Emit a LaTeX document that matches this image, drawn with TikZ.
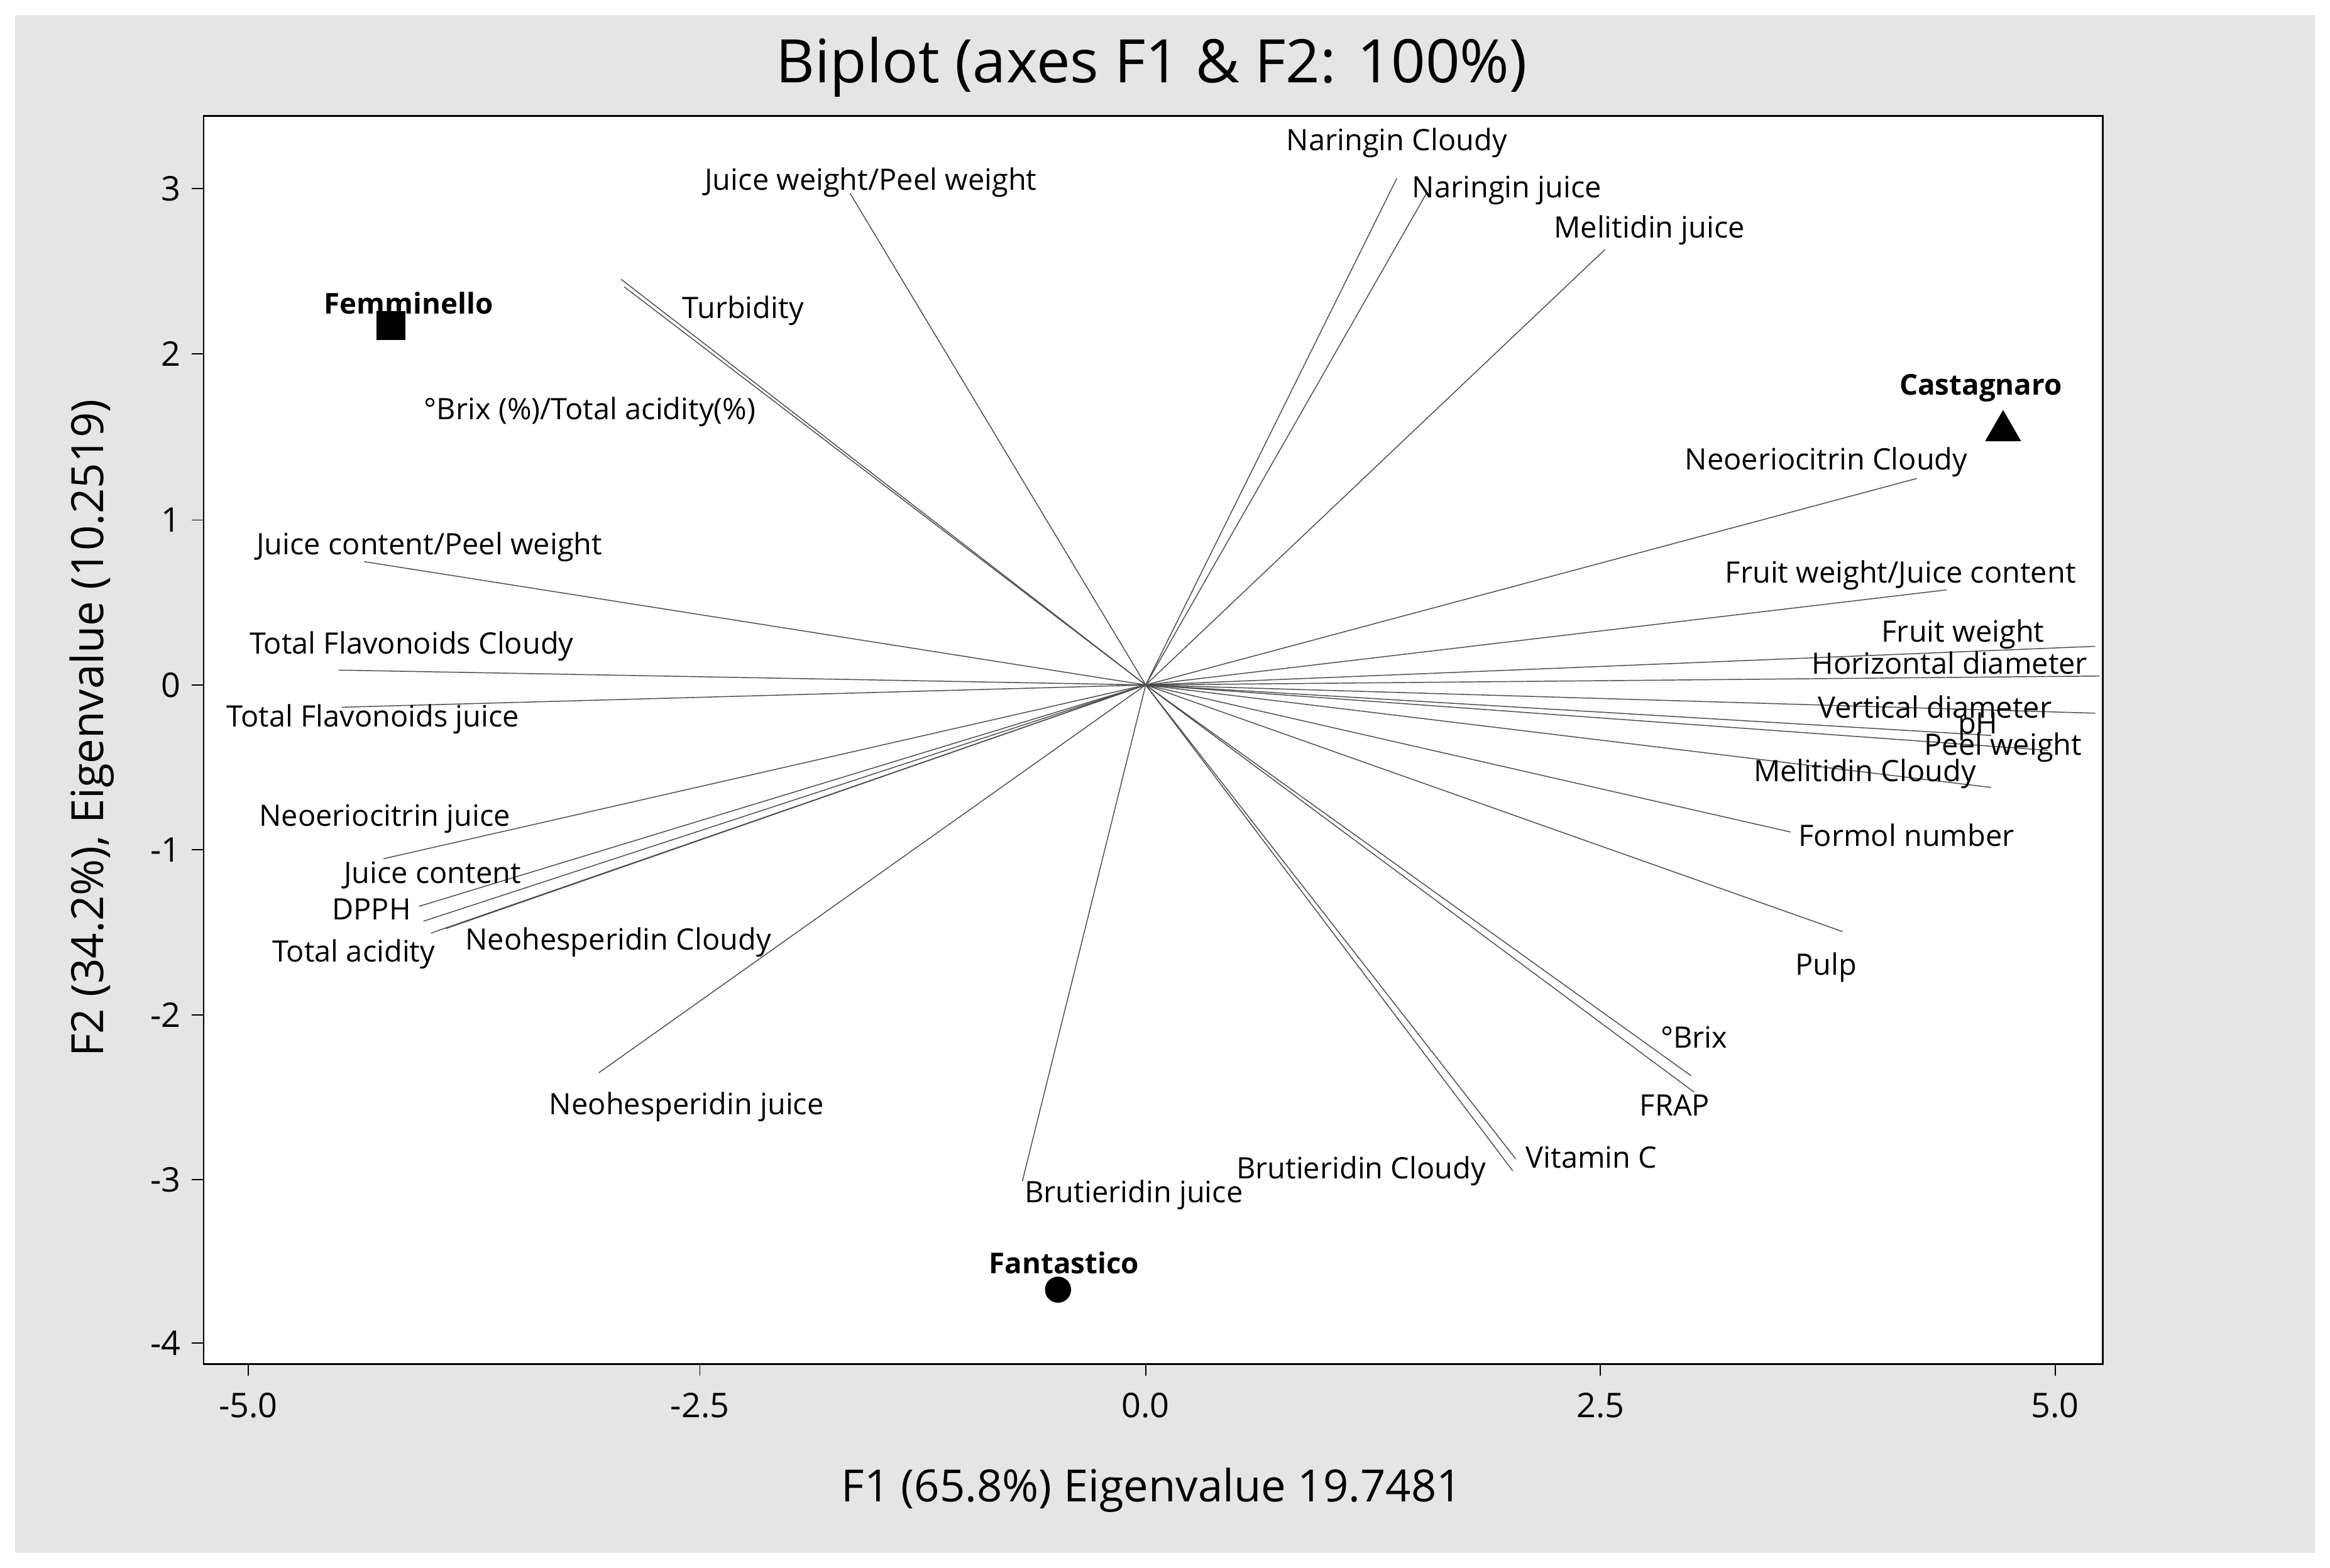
\documentclass[tikz,border=0pt]{standalone}
\usepackage{fontspec}
\setmainfont{Open Sans}
\usetikzlibrary{shapes.geometric}
\begin{document}
\begin{tikzpicture}[x=0.02cm,y=-0.02cm,
 lab/.style={font=\fontsize{11.3}{12}\selectfont,inner sep=0pt},
 obs/.style={font=\bfseries\fontsize{11}{12}\selectfont,inner sep=0pt},
 tick/.style={font=\fontsize{13}{14}\selectfont,inner sep=0pt},
 vec/.style={draw=black!70,line width=0.35pt}]
\useasboundingbox (0,0) rectangle (1568,1055);
\fill[white] (0,0) rectangle (1568,1055);
\fill[gray!20] (10,10) rectangle (1558,1045);
\fill[white] (137,78) rectangle (1415,918);
\draw[line width=0.6pt] (137,78) rectangle (1415,918);
\node[font=\fontsize{23}{26}\selectfont] (title) at (775,45) {Biplot (axes F1 \& F2: 100\%)};
\node[font=\fontsize{17}{19}\selectfont] (xt) at (775,1003) {F1 (65.8\%) Eigenvalue 19.7481};
\node[font=\fontsize{17}{19}\selectfont,rotate=90] (yt) at (62,490) {F2 (34.2\%), Eigenvalue (10.2519)};
\foreach \x/\t in {167/-5.0,471/-2.5,771/0.0,1077/2.5,1383/5.0}{
 \draw (\x,918) -- (\x,926); \node[tick] at (\x,946) {\t};}
\foreach \y/\t in {127/3,238/2,350/1,461/0,572/-1,683/-2,794/-3,904/-4}{
 \draw (137,\y) -- (129,\y); \node[tick,anchor=east] at (122,\y) {\t};}
\coordinate (O) at (771,461);
\foreach \n/\px/\py in {a/572/130,b/940/120,c/960/130,d/1080/168,e/418/188,f/420/193,g/245/378,h/228/451,i/230/476,j/258/578,k/282/610,l/285/620,m/290/628,n/300/625,o/403/722,p/688/795,q/1018/788,r/1020/780,s/1138/724,t/1140/735,u/1240/627,v/1205/560,w/1340/530,x/1378/505,y/1340/495,z/1410/480,A/1413/455,B/1410/435,C/1310/397,D/1290/322}{
 \coordinate (e\n) at (\px,\py); \draw[vec] (O) -- (e\n);}
\node[lab] (l1) at (586,123) {Juice weight/Peel weight};
\node[lab] (l2) at (940,96) {Naringin Cloudy};
\node[lab] (l3) at (1014,128) {Naringin juice};
\node[lab] (l4) at (1110,155) {Melitidin juice};
\node[lab] (l5) at (500,209) {Turbidity};
\node[lab] (l6) at (397,277) {°Brix (\%)/Total acidity(\%)};
\node[lab] (l7) at (289,368) {Juice content/Peel weight};
\node[lab] (l8) at (277,435) {Total Flavonoids Cloudy};
\node[lab] (l9) at (251,484) {Total Flavonoids juice};
\node[lab] (l10) at (259,551) {Neoeriocitrin juice};
\node[lab] (l11) at (291,589) {Juice content};
\node[lab] (l12) at (250,612) {DPPH};
\node[lab] (l13) at (238,642) {Total acidity};
\node[lab] (l14) at (416,634) {Neohesperidin Cloudy};
\node[lab] (l15) at (462,745) {Neohesperidin juice};
\node[lab] (l16) at (763,804) {Brutieridin juice};
\node[lab] (l17) at (916,788) {Brutieridin Cloudy};
\node[lab] (l18) at (1071,779) {Vitamin C};
\node[lab] (l19) at (1127,744) {FRAP};
\node[lab] (l20) at (1140,698) {°Brix};
\node[lab] (l21) at (1229,651) {Pulp};
\node[lab] (l22) at (1283,562) {Formol number};
\node[lab] (l23) at (1255,521) {Melitidin Cloudy};
\node[lab] (l24) at (1348,503) {Peel weight};
\node[lab] (l25) at (1331,489) {pH};
\node[lab] (l26) at (1302,476) {Vertical diameter};
\node[lab] (l27) at (1312,446) {Horizontal diameter};
\node[lab] (l28) at (1321,427) {Fruit weight};
\node[lab] (l29) at (1279,387) {Fruit weight/Juice content};
\node[lab] (l30) at (1229,311) {Neoeriocitrin Cloudy};
\node[obs] (fem) at (275,204) {Femminello};
\node[obs] (cas) at (1333,261) {Castagnaro};
\node[obs] (fan) at (716,850) {Fantastico};
\node[fill=black,minimum size=11pt,inner sep=0pt] (sq) at (263,219) {};
\node[fill=black,regular polygon,regular polygon sides=3,minimum size=16pt,inner sep=0pt] (tri) at (1348,290) {};
\node[fill=black,circle,minimum size=10pt,inner sep=0pt] (ci) at (712,868) {};
\end{tikzpicture}
\end{document}
